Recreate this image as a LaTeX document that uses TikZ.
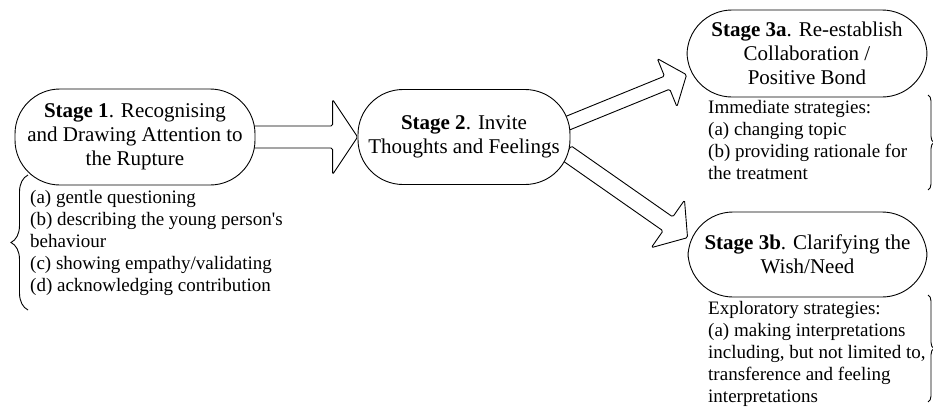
\documentclass[tikz,border=0pt]{standalone}
\usepackage{fontspec}
\setmainfont{Liberation Serif}
\usetikzlibrary{calc,decorations.pathreplacing}

\tikzset{
  stage/.style={draw, fill=white, line width=0.9pt, rounded corners=45pt, align=center,
    font=\fontsize{21}{24}\selectfont, inner sep=0pt},
  lst/.style={align=left, font=\fontsize{19}{22}\selectfont, inner sep=0pt, anchor=north west},
  blk/.style={draw, fill=white, line width=0.9pt, rounded corners=1.5pt, line join=round},
  brc/.style={draw, line width=0.9pt, decorate, decoration={brace, amplitude=#1}},
}

% \blockarrow{name}{start}{end}{half shaft}{half head}{head length}
\newcommand\blockarrow[6]{%
  \coordinate (#1-a) at ($(#2)!-5pt!(#3)$);
  \coordinate (#1-h) at ($(#3)!#6!(#2)$);
  \draw[blk] ($(#1-a)!#4!90:(#3)$) -- ($(#1-h)!#4!90:(#3)$) -- ($(#1-h)!#5!90:(#3)$)
    -- (#3) -- ($(#1-h)!#5!-90:(#3)$) -- ($(#1-h)!#4!-90:(#3)$) -- ($(#1-a)!#4!-90:(#3)$) -- cycle;
}

\begin{document}
\begin{tikzpicture}[x=1pt,y=1pt]
\useasboundingbox (0,0) rectangle (933,-407);

% node positions (invisible first pass for coordinates)
\path
  (135,-137) node[stage, draw=none, fill=none, minimum width=240pt, minimum height=96pt] (s1p) {}
  (464,-137) node[stage, draw=none, fill=none, minimum width=212pt, minimum height=95pt] (s2p) {}
  (807,-53.5) node[stage, draw=none, fill=none, minimum width=240pt, minimum height=87pt] (s3ap) {}
  (807.5,-254.5) node[stage, draw=none, fill=none, minimum width=239pt, minimum height=85pt] (s3bp) {};

% block arrows (behind the stage nodes)
\blockarrow{ar1}{s1p.east}{s2p.west}{11pt}{37.5pt}{25pt}
\blockarrow{ar2}{s2p.8}{s3ap.190}{7pt}{26pt}{21pt}
\blockarrow{ar3}{s2p.-10}{s3bp.172}{8.5pt}{29pt}{24pt}

% stage nodes
\node[stage, minimum width=240pt, minimum height=96pt] (s1) at (s1p)
  {\textbf{Stage 1}. Recognising\\and Drawing Attention to\\the Rupture};
\node[stage, minimum width=212pt, minimum height=95pt] (s2) at (s2p)
  {\textbf{Stage 2}. Invite\\Thoughts and Feelings};
\node[stage, minimum width=240pt, minimum height=87pt] (s3a) at (s3ap)
  {\textbf{Stage 3a}. Re-establish\\Collaboration /\\Positive Bond};
\node[stage, minimum width=239pt, minimum height=85pt] (s3b) at (s3bp)
  {\textbf{Stage 3b}. Clarifying the\\Wish/Need};

% strategy lists
\node[lst] (l1) at (30,-190)
  {(a) gentle questioning\\(b) describing the young person\textquotesingle s\\behaviour\\(c) showing empathy/validating\\(d) acknowledging contribution};
\node[lst] (l3a) at (708,-100)
  {Immediate strategies:\\(a) changing topic\\(b) providing rationale for\\the treatment};
\node[lst] (l3b) at (708,-301)
  {Exploratory strategies:\\(a) making interpretations\\including, but not limited to,\\transference and feeling\\interpretations};

% braces
\coordinate (b1a) at (28,-310);
\coordinate (b1b) at (28,-175);
\draw[brc=17pt] (b1a) -- (b1b);
\coordinate (b2a) at (928,-95);
\coordinate (b2b) at (928,-190);
\draw[brc=6pt] (b2a) -- (b2b);
\coordinate (b3a) at (928,-295);
\coordinate (b3b) at (928,-402);
\draw[brc=6pt] (b3a) -- (b3b);
\end{tikzpicture}
\end{document}
